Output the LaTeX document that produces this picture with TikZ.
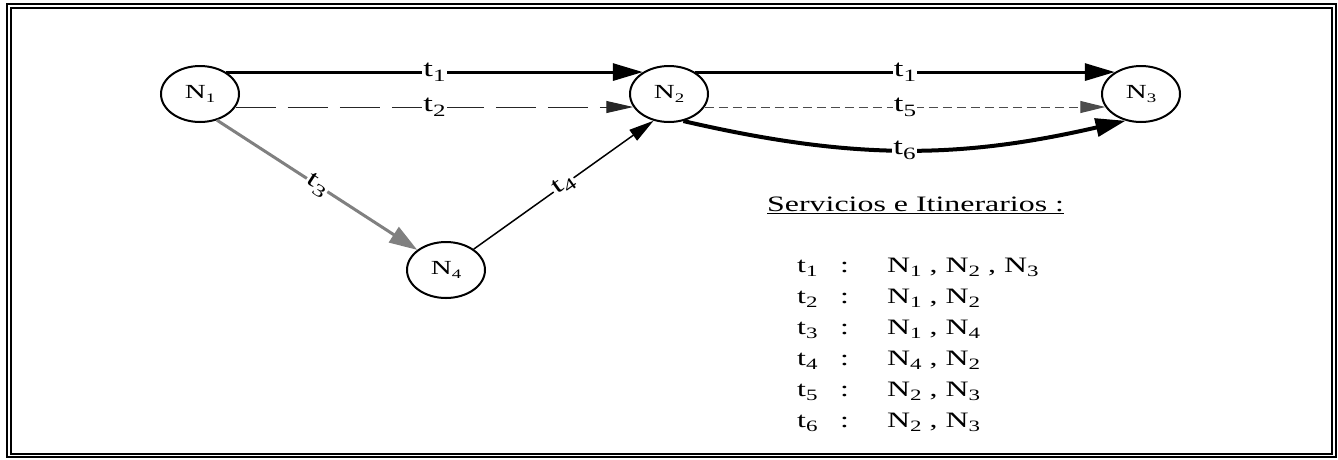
\documentclass[tikz,border=0pt]{standalone}
\usepackage{fontspec}
\setmainfont{Liberation Serif}[FakeStretch=1.45]
\usetikzlibrary{arrows.meta,shapes.geometric}
\newcommand\lo[2][0.72]{\raisebox{-0.22em}{\scalebox{#1}{#2}}}
\begin{document}
\begin{tikzpicture}[x=1pt,y=-1pt,
  nd/.style={ellipse, draw, line width=2pt, minimum width=78pt, minimum height=56pt, inner sep=0pt, font=\fontsize{20}{20}\selectfont},
  lab/.style={fill=white, text=black, inner sep=1pt, font=\fontsize{24}{24}\selectfont},
  row/.style={anchor=base west, inner sep=0pt, font=\fontsize{22}{22}\selectfont},
  thick1/.style={line width=3pt, -{Triangle[length=30pt,width=17pt]}},
  dashA/.style={line width=1pt, black!85, dash pattern=on 40pt off 12pt, -{Triangle[length=27pt,width=12pt]}},
  dashB/.style={line width=1pt, black!70, dash pattern=on 9pt off 5pt, -{Triangle[length=25pt,width=12pt]}},
  grayE/.style={line width=3pt, gray, -{Triangle[length=28pt,width=18pt]}},
  thinE/.style={line width=1.5pt, -{Triangle[length=25pt,width=13pt]}},
  curveE/.style={line width=4pt, -{Triangle[length=30pt,width=18pt]}},
  frame/.style={line width=2pt}]
\useasboundingbox (0,0) rectangle (1338,459);
\draw[frame] (7,4.3) rectangle (1335.7,457);
\draw[frame] (11,8.3) rectangle (1331.8,453.5);
\node[nd] (N1) at (200,94) {N\lo[0.65]{1}};
\node[nd] (N2) at (669,94) {N\lo[0.65]{2}};
\node[nd] (N3) at (1141,94) {N\lo[0.65]{3}};
\node[nd] (N4) at (446,270) {N\lo[0.65]{4}};
\draw[thick1] (N1.40) -- node[lab] {t\lo1} (N2.140);
\draw[dashA] (N1.-20) -- node[lab] {t\lo2} (N2.200);
\draw[grayE] (N1.-57) -- node[lab, sloped] {t\lo3} (N4.145);
\draw[thinE] (N4.37) -- node[lab, sloped] {t\lo4} (N2.-120);
\draw[thick1] (N2.40) -- node[lab] {t\lo1} (N3.140);
\draw[dashB] (N2.-20) -- node[lab] {t\lo5} (N3.200);
\draw[curveE] (N2.-62) to[out=-13, in=193] node[lab] {t\lo6} (N3.-120);
\node[row] (title) at (767,211) {\underline{Servicios e Itinerarios :}};
\node[row] (r1) at (797,272) {\makebox[43pt][l]{t\lo1}\makebox[47pt][l]{:}N\lo1 , N\lo2 , N\lo3};
\node[row] (r2) at (797,303) {\makebox[43pt][l]{t\lo2}\makebox[47pt][l]{:}N\lo1 , N\lo2};
\node[row] (r3) at (797,334) {\makebox[43pt][l]{t\lo3}\makebox[47pt][l]{:}N\lo1 , N\lo4};
\node[row] (r4) at (797,365) {\makebox[43pt][l]{t\lo4}\makebox[47pt][l]{:}N\lo4 , N\lo2};
\node[row] (r5) at (797,396) {\makebox[43pt][l]{t\lo5}\makebox[47pt][l]{:}N\lo2 , N\lo3};
\node[row] (r6) at (797,427) {\makebox[43pt][l]{t\lo6}\makebox[47pt][l]{:}N\lo2 , N\lo3};
\end{tikzpicture}
\end{document}
